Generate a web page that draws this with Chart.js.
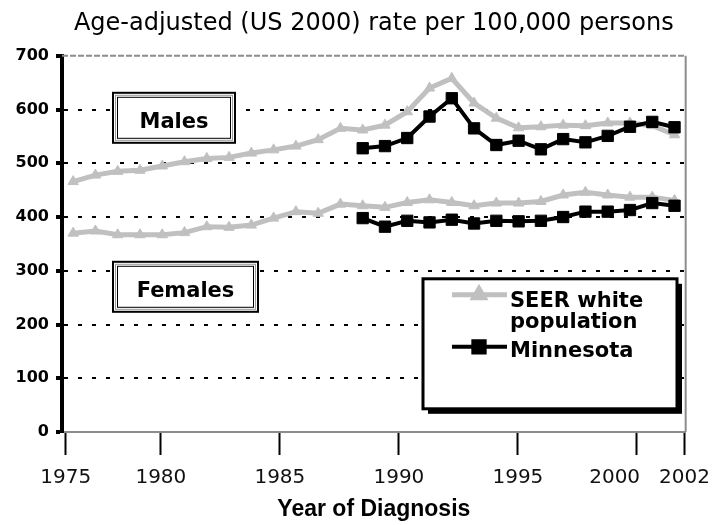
<!DOCTYPE html>
<html>
<head>
<meta charset="utf-8">
<script src="https://cdn.jsdelivr.net/npm/chart.js@4.4.1/dist/chart.umd.min.js"></script>
<style>
    html, body { margin: 0; padding: 0; background: #fff; }
    #wrap { width: 721px; height: 525px; }
</style>
</head>
<body>
<div id="wrap"><canvas id="rateChart" width="721" height="525"></canvas></div>
<script>
// Data (rate per 100,000)
const years = [1975, 1976, 1977, 1978, 1979, 1980, 1981, 1982, 1983, 1984,
               1985, 1986, 1987, 1988, 1989, 1990, 1991, 1992, 1993, 1994,
               1995, 1996, 1997, 1998, 1999, 2000, 2001, 2002];
const seerMales = [466, 478, 485, 487, 495, 503, 509, 511, 519, 525,
                   532, 544, 565, 562, 571, 596, 640, 658, 612, 584,
                   566, 568, 571, 570, 575, 575, 570, 553];
const seerFemales = [370, 374, 367, 367, 367, 371, 382, 381, 385, 398,
                     410, 407, 424, 421, 418, 427, 432, 427, 421, 426,
                     426, 429, 441, 446, 441, 437, 437, 431];
// Minnesota starts in 1988
const mnMales = [null, null, null, null, null, null, null, null, null, null,
                 null, null, null, 528, 532, 547, 587, 621, 565, 534,
                 542, 526, 545, 539, 551, 568, 577, 567];
const mnFemales = [null, null, null, null, null, null, null, null, null, null,
                   null, null, null, 398, 382, 393, 390, 395, 388, 393,
                   392, 393, 400, 410, 410, 413, 426, 421];

const yTicks = [0, 100, 200, 300, 400, 500, 600, 700];
// the year ticks in the original sit on their own scale, not on the points
const xTickPos = [1976, 1980, 1985, 1990, 1995, 2000, 2002];
// trailing spaces push "2000" left of its tick, as in the original
const xTickLabels = ['1975', '1980', '1985', '1990', '1995', '2000       ', '2002'];

const SEER_GREY = '#c0c0c0';
const FONT = '"DejaVu Sans", Verdana, sans-serif';

function drawBox(ctx, x, y, w, h, text, font) {
    ctx.fillStyle = '#fff';
    ctx.fillRect(x, y, w, h);
    ctx.strokeStyle = '#000';
    ctx.lineWidth = 2;
    ctx.strokeRect(x, y, w, h);
    ctx.strokeStyle = '#999';
    ctx.lineWidth = 1;
    ctx.strokeRect(x + 2.5, y + 2.5, w - 5, h - 5);
    ctx.strokeStyle = '#000';
    ctx.strokeRect(x + 4.5, y + 4.5, w - 9, h - 9);
    ctx.fillStyle = '#000';
    ctx.font = font;
    ctx.textAlign = 'center';
    ctx.textBaseline = 'alphabetic';
    ctx.fillText(text, x + w / 2, y + h / 2 + 10.5);
}

const decorations = {
    id: 'decorations',
    beforeDatasetsDraw(chart) {
        const {ctx, chartArea: a} = chart;
        ctx.save();
        ctx.strokeStyle = '#8c8c8c';
        ctx.lineWidth = 2;
        ctx.setLineDash([6, 2]);
        ctx.beginPath();
        ctx.moveTo(a.left, a.top);
        ctx.lineTo(a.right, a.top);
        ctx.stroke();
        ctx.setLineDash([]);
        ctx.beginPath();
        ctx.moveTo(a.right, a.top);
        ctx.lineTo(a.right, a.bottom);
        ctx.stroke();
        ctx.restore();
    },
    afterDatasetsDraw(chart) {
        const {ctx, chartArea: a} = chart;
        const ds = chart.data.datasets;
        ctx.save();
        drawBox(ctx, a.left + 51, a.top + 37, 122, 50, 'Males', 'bold 21px ' + FONT);
        drawBox(ctx, a.left + 51, a.top + 206, 145, 50, 'Females', 'bold 21px ' + FONT);

        // legend box with shadow
        const lx = a.left + 361, ly = a.top + 223, lw = 254, lh = 130;
        ctx.fillStyle = '#000';
        ctx.fillRect(lx + 5, ly + 5, lw, lh);
        ctx.fillStyle = '#fff';
        ctx.fillRect(lx, ly, lw, lh);
        ctx.strokeStyle = '#000';
        ctx.lineWidth = 3;
        ctx.strokeRect(lx, ly, lw, lh);

        const items = [
            {ds: ds[2], y: ly + 16, base: ly + 28, lines: ['SEER white', 'population']},
            {ds: ds[0], y: ly + 68, base: ly + 78, lines: ['Minnesota']}
        ];
        items.forEach(it => {
            ctx.strokeStyle = it.ds.borderColor;
            ctx.lineWidth = it.ds.borderWidth;
            ctx.beginPath();
            ctx.moveTo(lx + 29, it.y);
            ctx.lineTo(lx + 84, it.y);
            ctx.stroke();
            Chart.helpers.drawPoint(ctx, {
                pointStyle: it.ds.pointStyle,
                radius: it.ds.pointRadius,
                rotation: 0,
                borderWidth: 1
            }, lx + 56, it.y);
            ctx.fillStyle = it.ds.pointBackgroundColor;
            ctx.fill();
            ctx.fillStyle = '#000';
            ctx.font = 'bold 21px ' + FONT;
            ctx.textAlign = 'left';
            ctx.textBaseline = 'alphabetic';
            it.lines.forEach((t, i) => ctx.fillText(t, lx + 87, it.base + i * 21));
        });
        ctx.restore();
    }
};

function seriesStyle(grey) {
    return grey ? {
        borderColor: SEER_GREY, backgroundColor: SEER_GREY,
        pointBackgroundColor: SEER_GREY, pointBorderColor: SEER_GREY,
        pointStyle: 'triangle', pointRadius: 6, borderWidth: 5, order: 2
    } : {
        borderColor: '#000', backgroundColor: '#000',
        pointBackgroundColor: '#000', pointBorderColor: '#000',
        pointStyle: 'rect', pointRadius: 8, borderWidth: 4, order: 1
    };
}

const ctx = document.getElementById('rateChart').getContext('2d');
const rateChart = new Chart(ctx, {
    type: 'line',
    data: {
        labels: years,
        datasets: [
            Object.assign({label: 'Minnesota males', data: mnMales}, seriesStyle(false)),
            Object.assign({label: 'Minnesota females', data: mnFemales}, seriesStyle(false)),
            Object.assign({label: 'SEER white males', data: seerMales}, seriesStyle(true)),
            Object.assign({label: 'SEER white females', data: seerFemales}, seriesStyle(true))
        ]
    },
    options: {
        responsive: false,
        animation: false,
        elements: { line: { tension: 0 }, point: { pointBorderWidth: 1 } },
        layout: { padding: { left: 0, right: 30, top: 0, bottom: 0 } },
        plugins: {
            legend: { display: false },
            tooltip: { enabled: false },
            title: {
                display: true,
                fullSize: false,
                text: 'Age-adjusted (US 2000) rate per 100,000 persons',
                color: '#000',
                font: { family: FONT, size: 24, weight: 'normal' },
                padding: { top: 9, bottom: 18 }
            }
        },
        scales: {
            x: {
                type: 'category',
                display: false,
                offset: true
            },
            x2: {
                type: 'linear',
                position: 'bottom',
                min: 1975.846,
                max: 2002.05,
                afterBuildTicks: s => { s.ticks = xTickPos.map(v => ({value: v})); },
                afterFit: s => { s.height = 93; },
                grid: {
                    drawOnChartArea: false,
                    tickLength: 23,
                    tickWidth: 2,
                    tickColor: '#000'
                },
                border: { display: true, color: '#8c8c8c', width: 2 },
                ticks: {
                    autoSkip: false,
                    maxRotation: 0,
                    padding: 11,
                    color: '#111',
                    font: { family: FONT, size: 20 },
                    callback: (v, i) => xTickLabels[i]
                },
                title: {
                    display: true,
                    text: 'Year of Diagnosis',
                    color: '#000',
                    font: { family: '"Liberation Sans Narrow", "Arial Narrow", sans-serif', size: 23, weight: 'bold' },
                    padding: { top: 0, bottom: 2 }
                }
            },
            y: {
                min: 0,
                max: 700,
                afterBuildTicks: s => { s.ticks = yTicks.map(v => ({value: v})); },
                afterFit: s => { s.width = 62; },
                grid: {
                    color: c => (c.tick && (c.tick.value === 0 || c.tick.value === 700)) ? 'rgba(0,0,0,0)' : '#000',
                    lineWidth: 2,
                    tickLength: 6,
                    tickWidth: 4,
                    tickColor: '#000',
                    tickBorderDash: []
                },
                border: { display: true, color: '#000', width: 4, dash: [4, 10] },
                ticks: {
                    padding: 7,
                    color: '#000',
                    font: { family: FONT, size: 16, weight: 'bold' }
                }
            }
        }
    },
    plugins: [decorations]
});
</script>
</body>
</html>
